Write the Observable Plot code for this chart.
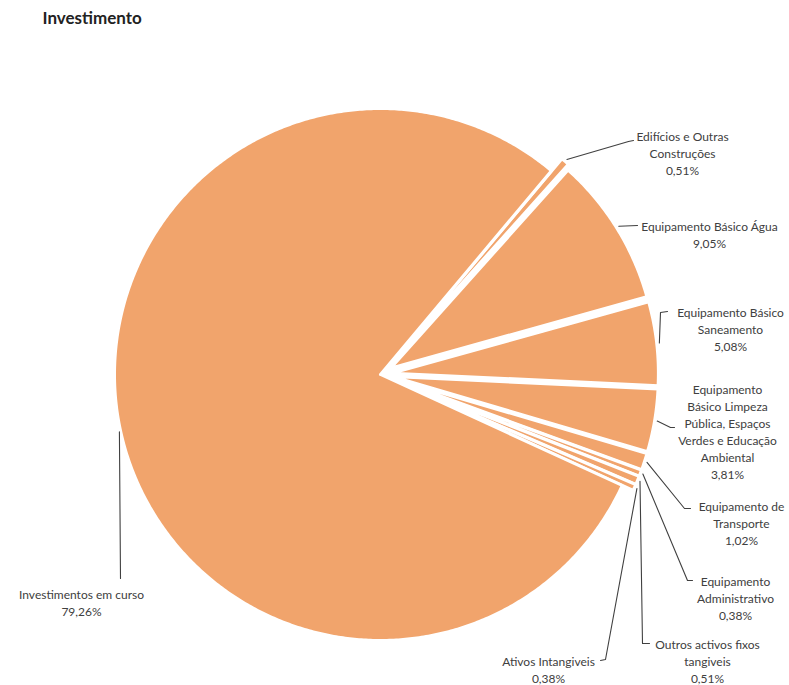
<!DOCTYPE html>
<html>
<head>
<meta charset="utf-8">
<script src="https://cdn.jsdelivr.net/npm/d3@7"></script>
<script src="https://cdn.jsdelivr.net/npm/@observablehq/plot@0.6"></script>
<style>
  html, body { margin: 0; padding: 0; background: #fff; }
  #chart svg { font-family: Lato, "Open Sans", sans-serif; }
</style>
</head>
<body>
<div id="chart"></div>
<script>
// ---- data (clockwise from the top-right) ----
const categories = [
  "Edifícios e Outras Construções",
  "Equipamento Básico Água",
  "Equipamento Básico Saneamento",
  "Equipamento Básico Limpeza Pública, Espaços Verdes e Educação Ambiental",
  "Equipamento de Transporte",
  "Equipamento Administrativo",
  "Outros activos fixos tangiveis",
  "Ativos Intangiveis",
  "Investimentos em curso"
];
const shares = [0.51, 9.05, 5.08, 3.81, 1.02, 0.38, 0.51, 0.38, 79.26];
const labelText = [
  "Edifícios e Outras\nConstruções",
  "Equipamento Básico Água",
  "Equipamento Básico\nSaneamento",
  "Equipamento\nBásico Limpeza\nPública, Espaços\nVerdes e Educação\nAmbiental",
  "Equipamento de\nTransporte",
  "Equipamento\nAdministrativo",
  "Outros activos fixos\ntangiveis",
  "Ativos Intangiveis",
  "Investimentos em curso"
];
const title = "Investimento";

// ---- layout (pixel positions of the labels, converted to pie units) ----
const W = 789, H = 685, CX = 380, CY = 374, R = 266;
const P = (px, py) => [(px - CX) / R, (CY - py) / R];
const labelLayout = [
  {text: P(682, 128), elbow: [P(628, 141), P(633, 140)]},
  {text: P(709, 218), elbow: [P(637, 225)]},
  {text: P(730, 304), elbow: [P(660, 312), P(667, 311)]},
  {text: P(727, 381), elbow: [P(670, 427), P(674, 427)]},
  {text: P(741, 498), elbow: [P(684, 508), P(690, 508)]},
  {text: P(735, 573), elbow: [P(687, 580), P(692, 580)]},
  {text: P(707, 636), elbow: [P(642, 643), P(649, 643)]},
  {text: P(548, 653), elbow: [P(605, 659), P(600, 660)]},
  {text: P(81, 586), elbow: [P(120, 578)], anchorAngle: 257.6}
];
const explode = [0.06, 0.045, 0.045, 0.045, 0.045, 0.045, 0.045, 0.045, 0];
const sliceColor = "#F1A46C";
const textColor = "#404040";

// ---- geometry from the data ----
const rad = Math.PI / 180;
const arcs = d3.pie().sort(null).startAngle(40 * rad).endAngle(400 * rad)(shares);
const slicePts = [];
const leaderPts = [];
const labels = [];
arcs.forEach((a, i) => {
  const mid = (a.startAngle + a.endAngle) / 2;
  const ox = explode[i] * Math.sin(mid), oy = explode[i] * Math.cos(mid);
  const n = Math.max(2, Math.ceil((a.endAngle - a.startAngle) / (0.5 * rad)));
  slicePts.push({k: i, x: ox, y: oy});
  for (let j = 0; j <= n; j++) {
    const t = a.startAngle + (a.endAngle - a.startAngle) * j / n;
    slicePts.push({k: i, x: ox + Math.sin(t), y: oy + Math.cos(t)});
  }
  slicePts.push({k: i, x: ox, y: oy});

  const L = labelLayout[i];
  const ang = L.anchorAngle != null ? L.anchorAngle * rad : mid;
  const r0 = 1.0 + (L.anchorAngle != null ? 0.005 : 0.01);
  leaderPts.push({k: i, x: ox + r0 * Math.sin(ang), y: oy + r0 * Math.cos(ang)});
  L.elbow.forEach(p => leaderPts.push({k: i, x: p[0], y: p[1]}));

  const pct = d3.format(".2f")(shares[i]).replace(".", ",") + "%";
  labels.push({x: L.text[0], y: L.text[1], text: labelText[i] + "\n" + pct, name: categories[i]});
});

const chart = Plot.plot({
  width: W,
  height: H,
  margin: 0,
  x: {domain: [-CX / R, (W - CX) / R], axis: null},
  y: {domain: [-(H - CY) / R, CY / R], axis: null},
  marks: [
    Plot.line(slicePts, {x: "x", y: "y", z: "k", fill: sliceColor, stroke: "white", strokeWidth: 3, strokeLinejoin: "round", curve: "linear"}),
    Plot.line(leaderPts, {x: "x", y: "y", z: "k", stroke: textColor, strokeWidth: 1.1, curve: "linear"}),
    Plot.text(labels, {x: "x", y: "y", text: "text", lineAnchor: "top", textAnchor: "middle", lineHeight: 1.42, fontSize: 12, fill: textColor}),
    Plot.text([title], {frameAnchor: "top-left", dx: 42, dy: 11, lineAnchor: "top", textAnchor: "start", fontSize: 17, fontWeight: "bold", fill: "#222"})
  ]
});
document.getElementById("chart").appendChild(chart);
</script>
</body>
</html>
